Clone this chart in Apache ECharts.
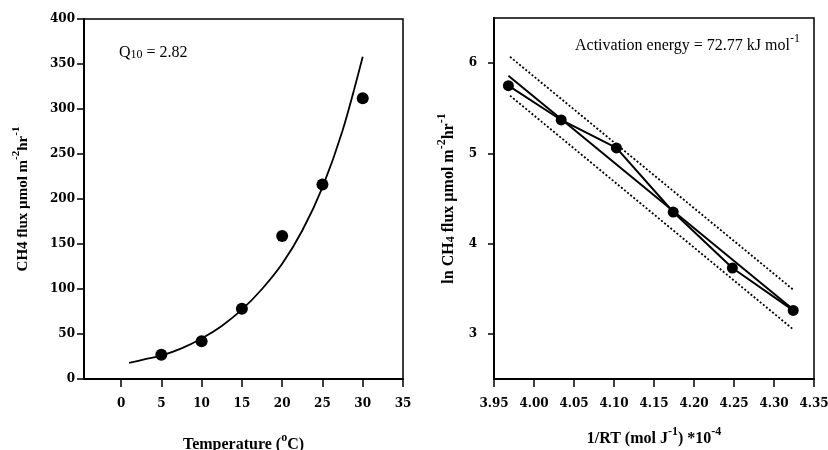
<!DOCTYPE html>
<html>
<head>
<meta charset="utf-8">
<script src="https://cdn.jsdelivr.net/npm/echarts@6/dist/echarts.min.js"></script>
<style>html,body{margin:0;padding:0;background:#fff}#c{width:828px;height:450px}</style>
</head>
<body>
<div id="c"></div>
<script>
// Left panel: temperature response
var tempPoints = [5, 10, 15, 20, 25, 30];
var fluxPoints = [27, 42, 78, 159, 216, 312];
var curveTemps = [1, 3, 5, 7.5, 10, 12.5, 15, 17.5, 20, 22.5, 25, 27.5, 30];
var curveFlux  = [18, 22, 26, 34, 45, 59, 77, 100, 128, 165, 213, 276, 358];
var leftXTicks = [0, 5, 10, 15, 20, 25, 30, 35];

// Right panel: Arrhenius plot
var invRT      = [3.968, 4.034, 4.103, 4.174, 4.248, 4.324];
var lnFlux     = [5.75, 5.37, 5.06, 4.35, 3.73, 3.26];
var fitX       = [3.968, 4.324];
var fitY       = [5.86, 3.27];
var upperX     = [3.970, 4.324];
var upperY     = [6.07, 3.49];
var lowerX     = [3.970, 4.324];
var lowerY     = [5.64, 3.05];
var rightYTicks = [3, 4, 5, 6];

function pairs(xs, ys) { return xs.map(function (x, i) { return [x, ys[i]]; }); }

var tickFont = { fontFamily: 'DejaVu Serif', fontWeight: 'bold', fontSize: 12, color: '#000' };
var titleFont = 'Liberation Serif';
var axisLine = { show: true, onZero: false, lineStyle: { color: '#000', width: 2 } };

function makeRich(size, weight) {
  return {
    n: { fontFamily: titleFont, fontWeight: weight, fontSize: size, color: '#000', lineHeight: size + 5, verticalAlign: 'bottom' },
    sup: { fontFamily: titleFont, fontWeight: weight, fontSize: size - 4, color: '#000', lineHeight: size - 4, verticalAlign: 'top' },
    sub: { fontFamily: titleFont, fontWeight: weight, fontSize: size - 4, color: '#000', lineHeight: size - 4, verticalAlign: 'bottom' }
  };
}

var chart = echarts.init(document.getElementById('c'), null, { renderer: 'canvas' });
chart.setOption({
  animation: false,
  backgroundColor: '#fff',
  title: [
    { text: '{n|Q}{sub|10}{n| = 2.82}', left: 119, top: 40, padding: 0, textStyle: { fontWeight: 'normal', rich: makeRich(16, 'normal') } },
    { text: '{n|Activation energy = 72.77 kJ mol}{sup|-1}', left: 575, top: 33, padding: 0, textStyle: { fontWeight: 'normal', rich: makeRich(16, 'normal') } }
  ],
  grid: [
    { left: 84, top: 19, width: 319, height: 360, show: true, borderColor: '#000', borderWidth: 1.5, containLabel: false, outerBoundsMode: 'none' },
    { left: 494, top: 18, width: 320, height: 361, show: true, borderColor: '#000', borderWidth: 1.5, containLabel: false, outerBoundsMode: 'none' }
  ],
  xAxis: [
    {
      gridIndex: 0, type: 'value', min: -4.6, max: 35,
      axisLine: axisLine, splitLine: { show: false },
      axisTick: { show: true, length: 8, lineStyle: { color: '#000', width: 1.5 }, customValues: leftXTicks },
      axisLabel: Object.assign({ margin: 19, customValues: leftXTicks }, tickFont),
      name: '{n|Temperature (}{sup|o}{n|C)}', nameLocation: 'middle', nameGap: 53, nameMoveOverlap: false,
      nameTextStyle: { rich: makeRich(16, 'bold') }
    },
    {
      gridIndex: 1, type: 'value', min: 3.95, max: 4.35, interval: 0.05,
      axisLine: axisLine, splitLine: { show: false },
      axisTick: { show: true, length: 8, lineStyle: { color: '#000', width: 1.5 } },
      axisLabel: Object.assign({ margin: 19, formatter: function (v) { return v.toFixed(2); } }, tickFont),
      name: '{n|1/RT (mol J}{sup|-1}{n|) *10}{sup|-4}', nameLocation: 'middle', nameGap: 47, nameMoveOverlap: false,
      nameTextStyle: { rich: makeRich(16, 'bold') }
    }
  ],
  yAxis: [
    {
      gridIndex: 0, type: 'value', min: 0, max: 400, interval: 50,
      axisLine: axisLine, splitLine: { show: false },
      axisTick: { show: true, length: 7, lineStyle: { color: '#000', width: 1.5 } },
      axisLabel: Object.assign({ margin: 9 }, tickFont),
      name: '{n|CH4 flux µmol m}{sup|-2}{n|hr}{sup|-1}', nameLocation: 'middle', nameGap: 53, nameRotate: 90, nameMoveOverlap: false,
      nameTextStyle: { rich: makeRich(15, 'bold') }
    },
    {
      gridIndex: 1, type: 'value', min: 2.5, max: 6.5,
      axisLine: axisLine, splitLine: { show: false },
      axisTick: { show: true, length: 6, lineStyle: { color: '#000', width: 1.5 }, customValues: rightYTicks },
      axisLabel: Object.assign({ margin: 17, customValues: rightYTicks }, tickFont),
      name: '{n|ln CH}{sub|4}{n| flux µmol m}{sup|-2}{n|hr}{sup|-1}', nameLocation: 'middle', nameGap: 37, nameRotate: 90, nameMoveOverlap: false,
      nameTextStyle: { rich: makeRich(16, 'bold') }
    }
  ],
  series: [
    {
      type: 'line', xAxisIndex: 0, yAxisIndex: 0, data: pairs(curveTemps, curveFlux),
      smooth: 0.3, showSymbol: false, lineStyle: { color: '#000', width: 1.8 }, silent: true
    },
    {
      type: 'scatter', xAxisIndex: 0, yAxisIndex: 0, data: pairs(tempPoints, fluxPoints),
      symbol: 'circle', symbolSize: 12, itemStyle: { color: '#000', opacity: 1 }
    },
    {
      type: 'line', xAxisIndex: 1, yAxisIndex: 1, data: pairs(upperX, upperY),
      showSymbol: false, lineStyle: { color: '#000', width: 1.8, type: [2, 2] }
    },
    {
      type: 'line', xAxisIndex: 1, yAxisIndex: 1, data: pairs(lowerX, lowerY),
      showSymbol: false, lineStyle: { color: '#000', width: 1.8, type: [2, 2] }
    },
    {
      type: 'line', xAxisIndex: 1, yAxisIndex: 1, data: pairs(fitX, fitY),
      showSymbol: false, lineStyle: { color: '#000', width: 2 }
    },
    {
      type: 'line', xAxisIndex: 1, yAxisIndex: 1, data: pairs(invRT, lnFlux),
      symbol: 'circle', symbolSize: 11, showSymbol: true,
      lineStyle: { color: '#000', width: 2 }, itemStyle: { color: '#000', opacity: 1 }
    }
  ]
});
</script>
</body>
</html>
